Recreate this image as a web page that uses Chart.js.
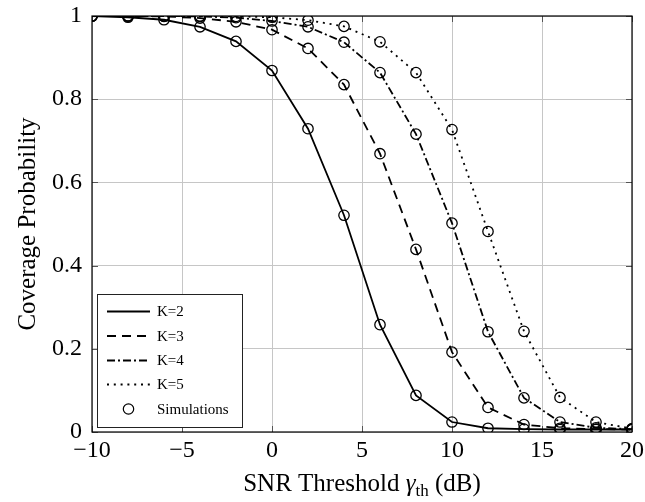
<!DOCTYPE html>
<html>
<head>
<meta charset="utf-8">
<script src="https://cdn.jsdelivr.net/npm/chart.js@4.4.1/dist/chart.umd.min.js"></script>
<style>
  html, body { margin: 0; padding: 0; background: #ffffff; }
  #wrap { width: 645px; height: 502px; }
</style>
</head>
<body>
<div id="wrap"><canvas id="cov" width="645" height="502"></canvas></div>
<script>
// SNR threshold (dB)
const snrDb = [-10, -8, -6, -4, -2, 0, 2, 4, 6, 8, 10, 12, 14, 16, 18, 20];

// Analytical coverage probability for each number of antennas K
const covK2 = [1.000, 0.997, 0.991, 0.974, 0.939, 0.869, 0.729, 0.521, 0.258, 0.088, 0.024, 0.009, 0.007, 0.006, 0.006, 0.006];
const covK3 = [1.000, 1.000, 0.999, 0.995, 0.986, 0.967, 0.922, 0.835, 0.669, 0.439, 0.192, 0.059, 0.018, 0.009, 0.007, 0.006];
const covK4 = [1.000, 1.000, 1.000, 0.999, 0.996, 0.988, 0.974, 0.937, 0.864, 0.716, 0.502, 0.241, 0.082, 0.024, 0.010, 0.007];
const covK5 = [1.000, 1.000, 1.000, 1.000, 0.999, 0.997, 0.990, 0.975, 0.938, 0.864, 0.727, 0.482, 0.242, 0.083, 0.024, 0.008];

// Monte-Carlo simulation results (same SNR grid)
const simK2 = [1.000, 0.997, 0.991, 0.974, 0.939, 0.869, 0.729, 0.521, 0.258, 0.088, 0.024, 0.009, 0.007, 0.006, 0.006, 0.006];
const simK3 = [1.000, 1.000, 0.999, 0.995, 0.986, 0.967, 0.922, 0.835, 0.669, 0.439, 0.192, 0.059, 0.018, 0.009, 0.007, 0.006];
const simK4 = [1.000, 1.000, 1.000, 0.999, 0.996, 0.988, 0.974, 0.937, 0.864, 0.716, 0.502, 0.241, 0.082, 0.024, 0.010, 0.007];
const simK5 = [1.000, 1.000, 1.000, 1.000, 0.999, 0.997, 0.990, 0.975, 0.938, 0.864, 0.727, 0.482, 0.242, 0.083, 0.024, 0.008];

const seriesLabels = ['K=2', 'K=3', 'K=4', 'K=5', 'Simulations'];
const xTickValues = [-10, -5, 0, 5, 10, 15, 20];
const yTickValues = [0, 0.2, 0.4, 0.6, 0.8, 1];

const SERIF = '"Liberation Serif", "DejaVu Serif", serif';
const toXY = (ys) => snrDb.map((x, i) => ({ x: x, y: ys[i] }));

function curve(label, ys, dash) {
  return {
    label: label,
    data: toXY(ys),
    showLine: true,
    borderColor: '#000',
    borderWidth: 1.8,
    borderDash: dash,
    borderCapStyle: 'butt',
    pointRadius: 0,
    pointHoverRadius: 0,
    fill: false,
    tension: 0
  };
}

const simPoints = [].concat(toXY(simK2), toXY(simK3), toXY(simK4), toXY(simK5));

const datasets = [
  curve(seriesLabels[0], covK2, []),
  curve(seriesLabels[1], covK3, [9, 6]),
  curve(seriesLabels[2], covK4, [8, 3, 2, 3]),
  curve(seriesLabels[3], covK5, [2, 4.8]),
  {
    label: seriesLabels[4],
    data: simPoints,
    showLine: false,
    pointStyle: 'circle',
    pointRadius: 5.2,
    pointHoverRadius: 5.2,
    pointBorderWidth: 1.3,
    pointBorderColor: '#000',
    pointBackgroundColor: 'rgba(0,0,0,0)',
    borderColor: '#000',
    backgroundColor: 'rgba(0,0,0,0)'
  }
];

// Frame, inward ticks, axis titles and the boxed legend
const decorations = {
  id: 'decorations',
  beforeDatasetsDraw(chart) {
    const { ctx, chartArea: a, scales } = chart;
    ctx.save();
    ctx.strokeStyle = '#555';
    ctx.lineWidth = 1;
    const t = 6;
    xTickValues.forEach(v => {
      const px = Math.round(scales.x.getPixelForValue(v)) + 0.5;
      ctx.beginPath();
      ctx.moveTo(px, a.bottom); ctx.lineTo(px, a.bottom - t);
      ctx.moveTo(px, a.top); ctx.lineTo(px, a.top + t);
      ctx.stroke();
    });
    yTickValues.forEach(v => {
      const py = Math.round(scales.y.getPixelForValue(v)) + 0.5;
      ctx.beginPath();
      ctx.moveTo(a.left, py); ctx.lineTo(a.left + t, py);
      ctx.moveTo(a.right, py); ctx.lineTo(a.right - t, py);
      ctx.stroke();
    });
    ctx.strokeStyle = '#000';
    ctx.lineWidth = 1.2;
    ctx.strokeRect(a.left, a.top, a.right - a.left, a.bottom - a.top);
    ctx.restore();
  },
  afterDraw(chart) {
    const { ctx, chartArea: a } = chart;
    ctx.save();
    ctx.fillStyle = '#000';

    // y-axis title
    ctx.save();
    ctx.translate(28, (a.top + a.bottom) / 2);
    ctx.rotate(-Math.PI / 2);
    ctx.font = '25px ' + SERIF;
    ctx.textAlign = 'center';
    ctx.textBaseline = 'middle';
    ctx.fillText('Coverage Probability', 0, 0);
    ctx.restore();

    // x-axis title with subscript
    const parts = [
      { s: 'SNR Threshold ', f: '25px ' + SERIF, dy: 0 },
      { s: 'γ', f: 'italic 25px ' + SERIF, dy: 0 },
      { s: 'th', f: '17px ' + SERIF, dy: 5 },
      { s: ' (dB)', f: '25px ' + SERIF, dy: 0 }
    ];
    let total = 0;
    parts.forEach(p => { ctx.font = p.f; p.w = ctx.measureText(p.s).width; total += p.w; });
    let cx = (a.left + a.right) / 2 - total / 2;
    const base = 491;
    ctx.textAlign = 'left';
    ctx.textBaseline = 'alphabetic';
    parts.forEach(p => { ctx.font = p.f; ctx.fillText(p.s, cx, base + p.dy); cx += p.w; });

    // legend box
    const bx = 97.5, by = 294.5, bw = 145, bh = 133;
    ctx.fillStyle = '#fff';
    ctx.fillRect(bx, by, bw, bh);
    ctx.strokeStyle = '#222';
    ctx.lineWidth = 1;
    ctx.strokeRect(bx, by, bw, bh);

    const rows = [311.5, 336, 360.5, 384.5, 409];
    ctx.font = '15px ' + SERIF;
    ctx.textBaseline = 'middle';
    chart.data.datasets.forEach((ds, i) => {
      const y = rows[i];
      ctx.strokeStyle = '#000';
      if (ds.showLine) {
        ctx.lineWidth = ds.borderWidth;
        ctx.setLineDash(ds.borderDash);
        ctx.beginPath();
        ctx.moveTo(107, y); ctx.lineTo(150, y);
        ctx.stroke();
        ctx.setLineDash([]);
      } else {
        ctx.lineWidth = 1.2;
        ctx.beginPath();
        ctx.arc(128.5, y, 5.2, 0, Math.PI * 2);
        ctx.stroke();
      }
      ctx.fillStyle = '#000';
      ctx.fillText(ds.label, 157, y + 1);
    });
    ctx.restore();
  }
};

const fmtX = (v) => (v < 0 ? '\u2212' + Math.abs(v) : String(v));
const fmtY = (v) => (v === 0 || v === 1 ? String(v) : v.toFixed(1));

new Chart(document.getElementById('cov'), {
  type: 'scatter',
  data: { datasets: datasets },
  plugins: [decorations],
  options: {
    responsive: false,
    animation: false,
    devicePixelRatio: 1,
    layout: { padding: { top: 16, right: 13, left: 0, bottom: 0 } },
    plugins: {
      legend: { display: false },
      tooltip: { enabled: false },
      title: { display: false }
    },
    scales: {
      x: {
        type: 'linear',
        min: -10,
        max: 20,
        afterFit(s) { s.height = 70; s.paddingLeft = 0; s.paddingRight = 0; },
        afterBuildTicks(s) { s.ticks = xTickValues.map(v => ({ value: v })); },
        grid: { color: '#c6c6c6', lineWidth: 1, drawTicks: false },
        border: { display: false },
        ticks: {
          color: '#000',
          padding: 4,
          maxRotation: 0,
          autoSkip: false,
          font: { family: SERIF, size: 24 },
          callback: (v) => fmtX(v)
        }
      },
      y: {
        type: 'linear',
        min: 0,
        max: 1,
        afterFit(s) { s.width = 92; s.paddingTop = 0; s.paddingBottom = 0; },
        afterBuildTicks(s) { s.ticks = yTickValues.map(v => ({ value: v })); },
        grid: { color: '#c6c6c6', lineWidth: 1, drawTicks: false },
        border: { display: false },
        ticks: {
          color: '#000',
          padding: 10,
          autoSkip: false,
          font: { family: SERIF, size: 24 },
          callback: (v) => fmtY(v)
        }
      }
    }
  }
});
</script>
</body>
</html>
